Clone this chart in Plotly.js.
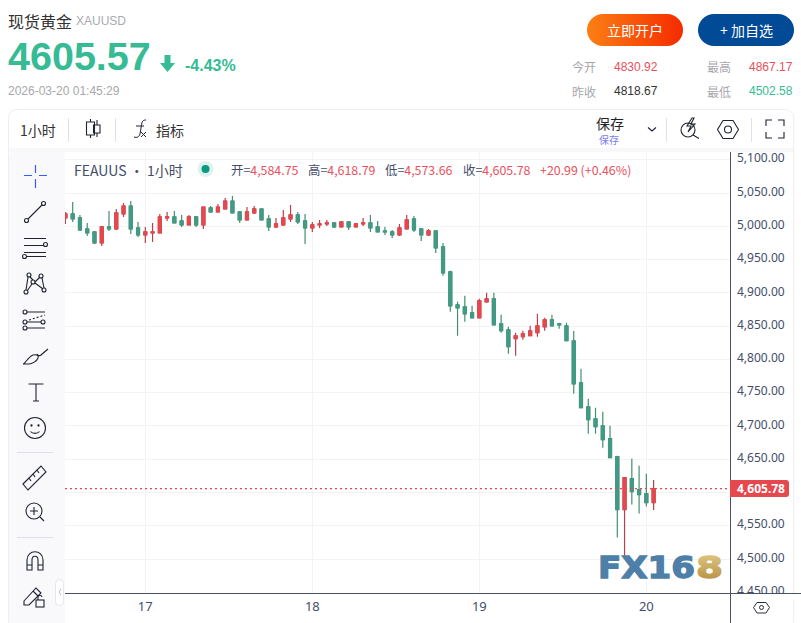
<!DOCTYPE html>
<html><head><meta charset="utf-8">
<script src="https://cdn.plot.ly/plotly-3.0.1.min.js"></script>
<style>
html,body{margin:0;padding:0;background:#fff;width:801px;height:623px;overflow:hidden}
#back,#front{position:absolute;left:0;top:0;pointer-events:none}
#chart{position:absolute;left:0;top:0;width:801px;height:623px}
</style></head><body>
<svg id="back" width="801" height="623" xmlns="http://www.w3.org/2000/svg">
<defs><linearGradient id="org" x1="0" x2="1" y1="0" y2="0"><stop offset="0" stop-color="#fb7f14"/><stop offset="1" stop-color="#f52b00"/></linearGradient></defs>
<rect x="587" y="14" width="96" height="32" rx="16" fill="url(#org)"/>
<rect x="698" y="14" width="96" height="32" rx="16" fill="#004a96"/>
<path d="M164.500 55h6v8h4.500l-7.500 9-7.500-9h4.500z" fill="#36bb95"/>
<rect x="8.500" y="109.500" width="785" height="520" rx="8" fill="#fff" stroke="#eeeef0"/>
<rect x="9" y="148" width="784" height="4" fill="#f8f8f9"/>
<path d="M9 156a4 4 0 0 1 4-4h52v471H9z" fill="#f9f9fb"/>
<g stroke="#dfe1ea" fill="none">
<path d="M68.500 118v24M115.500 118v24M666.500 118v24M751.500 118v24"/>
<path d="M17 452.500h36M17 537.500h36"/>
</g>
<g stroke="#1f2330" fill="none" stroke-width="1.100">
<path d="M90.500 119v3M90.500 135v3M86.500 122h8v13h-8zM97 120v5M97 133v4M93.500 125h6.500v8h-6.500z"/>
<path d="M146 120c-4 0-4 2-5 8l-1 6c-1 3-3 4-6 3M136 126h8M141 132l5 5M146 132l-5 5" stroke-width="1"/>
<path d="M648 127.500l4 3.500 4-3.500"/>
<circle cx="688" cy="130" r="7"/><path d="M693 135l6 3.500M692 118l-5 8h4l-3 6 7-8h-4l3-6z"/>
<path d="M723 120.500h10l5.500 9-5.500 9h-10l-5.500-9z"/><circle cx="728" cy="129.500" r="3.500"/>
<path d="M766 126v-6h6M778 120h6v6M784 132v6h-6M772 138h-6v-6"/>
</g>
<path d="M24 175.500h8M39 175.500h8M35.500 165v8M35.500 179v9" stroke="#2962ff" stroke-width="1.200" fill="none"/>
<g stroke="#1f2330" fill="none" stroke-width="1.100">
<circle cx="26.500" cy="220.500" r="2"/><circle cx="43.500" cy="203.500" r="2"/><path d="M28 219l14-14"/>
<path d="M24 238.500h22M24 245.500h20M24 252.500h22M26 256.500h20"/><circle cx="45.500" cy="244.500" r="2"/><circle cx="24.500" cy="256.500" r="2"/>
<circle cx="29" cy="275" r="2"/><circle cx="41" cy="276" r="2"/><circle cx="33" cy="282" r="2"/><circle cx="26" cy="292" r="2"/><circle cx="44" cy="290" r="2"/><path d="M28 277l-2 13M30 277l3 3M35 282l5-5M42 278l2 10M35 283l8 6M32 284l-5 7"/>
<circle cx="25" cy="312" r="2"/><circle cx="25" cy="322" r="2"/><circle cx="25" cy="328" r="2"/><circle cx="43" cy="322" r="2"/><path d="M27 312h18M27 322h14M27 328h18"/><path d="M29 320l16-5" stroke-dasharray="2 2"/>
<path d="M23 364c2 0 5-7 10-9 4-1 6 1 5 3-1 3-6 6-9 6zM37 354c1 2 3 2 4 1l7-6"/>
<path d="M28.500 384h15M36 384v17M33 401h6"/>
<circle cx="35" cy="428" r="10.500"/><circle cx="31.500" cy="425.500" r=".6"/><circle cx="38.500" cy="425.500" r=".6"/><path d="M30.500 431.500c2 2.500 7 2.500 9 0"/>
<path d="M23 484l18-18 5 6-18 18zM29 478l2 3M33 474l2 3M37 470l2 3"/>
<circle cx="34" cy="511" r="8"/><path d="M40 517l4 4M30 511h8M34 507v8"/>
<path d="M27 570v-10c0-11 16-11 16 0v10h-5v-10c0-5-6-5-6 0v10zM27 565h5M38 565h5"/>
<path d="M24 601l12-13 5 5-12 12h-5zM33 591l5 5"/><rect x="36" y="600" width="8" height="7" fill="#f9f9fb"/><path d="M38 600v-3c0-2 4-2 4 0"/>
</g>
<rect x="55.500" y="579.500" width="8" height="26" rx="4" fill="#fff" stroke="#e5e6ec"/>
<path d="M61 589l-2 3 2 3" stroke="#b8bcc8" fill="none"/>
<circle cx="205.500" cy="169" r="8" fill="#dff2ee"/><circle cx="205.500" cy="169" r="4" fill="#089981"/>
<path d="M730.500 152V623M65 593.500H801" stroke="#4a5268" fill="none"/>
<path d="M757 602.500h9l3.500 5-3.500 5.500h-9l-3.500-5.500z" stroke="#2a2e39" fill="none"/><circle cx="761.500" cy="607.500" r="2" stroke="#2a2e39" fill="none"/>
<path d="M730 480h56a3 3 0 0 1 3 3v11a3 3 0 0 1-3 3h-56z" fill="#e5484d"/>
</svg>
<div id="chart"></div>
<svg id="front" width="801" height="623" xmlns="http://www.w3.org/2000/svg">
<defs><linearGradient id="gold" x1="0" x2="0" y1="0" y2="1"><stop offset="0" stop-color="#e6cf8d"/><stop offset="1" stop-color="#b08b3c"/></linearGradient></defs>
<text x="598" y="577.500" font-family="DejaVu Sans" font-weight="700" font-size="31" fill="#4e7fa8" stroke="#4e7fa8" stroke-width="1.300" textLength="97" lengthAdjust="spacingAndGlyphs">FX16</text>
<text x="696" y="577.500" font-family="DejaVu Sans" font-weight="700" font-size="31" fill="url(#gold)" stroke="url(#gold)" stroke-width="1.300" textLength="27" lengthAdjust="spacingAndGlyphs">8</text>
</svg>
<script>
// Hourly candles, XAUUSD
var openP = [5012.5,5018.5,5012.5,4996,4991.5,4975,4999,4996,5018.5,5030.5,4997.5,4987,4990,4990,5012.5,5014,5008,5002,5014,5002,5027.5,5021.5,5026,5038,5021.5,5009.5,5020,5026,5011,4999,5002,5011,5017,5008,4997.5,5002,5003.5,5005,4999,5006.5,4999,5003.5,5005,4999,4993,4991.5,4987,4996,5011,4996,4987,4993,4969,4931.5,4882,4879,4870,4862.5,4886.5,4891,4853.5,4844.5,4831,4834,4835.5,4840,4849,4859.5,4853.5,4850.5,4827.8,4764.8,4728.8,4710.8,4700.3,4680.8,4653.8,4574.3,4620.8,4604.3,4598.3,4584.75];
var highP = [5021.5,5036.5,5017,5005,4993,5000.5,5023,5026,5035,5038,5006.5,4999,5005,5018.5,5021.5,5023,5017,5017,5015.5,5029,5030.5,5033.5,5042.5,5045.5,5023,5029,5030.5,5026,5017,5012.5,5024.5,5032,5021.5,5018.5,5006.5,5009.5,5009.5,5006.5,5006.5,5006.5,5005,5012.5,5017,5008,4999,4994.5,5003.5,5017,5015.5,4997.5,4996,4993,4975,4933,4886.5,4895.5,4880.5,4891,4900,4900,4867,4849,4840,4843,4850.5,4868.5,4862.5,4867,4855,4855,4842.8,4785.8,4740.8,4727.3,4721.3,4700.3,4655.3,4622.3,4650.8,4640.3,4628.3,4618.79];
var lowP = [5003.5,5006.5,4993,4985.5,4973.5,4970.5,4993,4994.5,5014,4988.5,4984,4975,4976.5,4990,5008,5005,4999,5002,4999,4996,5020,5021.5,5026,5020,5005,5009.5,5018.5,5009.5,4993,4997.5,5000.5,5006.5,5003.5,4973.5,4991.5,4997.5,5000.5,4997.5,4999,4994.5,4999,5000.5,4991.5,4991.5,4987,4982.5,4985.5,4996,4991.5,4978,4985.5,4960,4925.5,4871.5,4835.5,4856.5,4862.5,4862.5,4885,4852,4840,4808.5,4805.5,4829.5,4835.5,4834,4843,4850.5,4846,4828,4748.3,4727.3,4688.3,4688.3,4667.3,4652.3,4532.3,4502.58,4581.8,4568.3,4578.8,4573.66];
var closeP = [5018.5,5011,4994.5,4990,4975,4999,4996,5020,5030.5,4996,4987,4991.5,4991.5,5014,5014,5005,5002,5014,5002,5029,5021.5,5029,5038,5020,5009.5,5021.5,5026,5009.5,4999,5003.5,5012.5,5017,5006.5,4997.5,5002,5003.5,5005,4999,5006.5,4999,5003.5,5005,4997.5,4991.5,4991.5,4987,4997.5,5009.5,4994.5,4987,4993,4967.5,4930,4880.5,4877.5,4868.5,4862.5,4888,4891,4852,4843,4819,4835.5,4838.5,4843,4850.5,4859.5,4850.5,4852,4828,4763.3,4727.3,4709.3,4698.8,4679.3,4652.3,4574.3,4622.3,4601.3,4596.8,4584.8,4605.78];
var dayTickIndex = [11,34,57,80];
var dayTickLabels = ['17','18','19','20'];
var priceTicks = [5100,5050,5000,4950,4900,4850,4800,4750,4700,4650,4600,4550,4500,4450];
var priceLabels = ['5,100.00','5,050.00','5,000.00','4,950.00','4,900.00','4,850.00','4,800.00','4,750.00','4,700.00','4,650.00','','4,550.00','4,500.00','4,450.00'];
var lastPrice = 4605.78;

var UP='#e5484d', DOWN='#429a85', UPW='#b8404f', DOWNW='#458f6c';
var xs = openP.map(function(_,i){return i;});
var W=801,H=623;
var MONO='"Noto Sans","Liberation Sans",sans-serif';
var CJK='"Noto Sans CJK SC","Noto Sans",sans-serif';
var ARIAL='"Liberation Sans",Arial,sans-serif';
var TXT='#434e6a', RED='#e8505b', GREY='#a7a7ad', GRN='#36bb95';

function note(px,py,text,size,color,anchor,family,bold){
  return {xref:'paper',yref:'paper',x:px/W,y:1-py/H,text:bold?'<b>'+text+'</b>':text,showarrow:false,
    xanchor:anchor||'left',yanchor:'middle',borderpad:0,borderwidth:0,
    font:{size:size,color:color,family:family||CJK}};
}
function c(t,col){return '<span style="color:'+col+'">'+t+'</span>';}
var notes=[
 note(8,21,'现货黄金',16,'#333',null,CJK),
 note(76,21,'XAUUSD',12,'#aaaab0',null,ARIAL),
 note(8,56,'4605.57',39.5,GRN,null,ARIAL,true),
 note(185,65,'-4.43%',16,GRN,null,ARIAL,true),
 note(8,91,'2026-03-20 01:45:29',12,GREY,null,ARIAL),
 note(635,30,'立即开户',14,'#fff','center',CJK),
 note(746,30,'+ 加自选',14,'#fff','center',CJK),
 note(572,67,'今开',12,GREY,null,CJK),
 note(614,67,'4830.92',12,RED,null,ARIAL),
 note(707,67,'最高',12,GREY,null,CJK),
 note(749,67,'4867.17',12,RED,null,ARIAL),
 note(572,91,'昨收',12,GREY,null,CJK),
 note(614,91,'4818.67',12,'#333',null,ARIAL),
 note(707,91,'最低',12,GREY,null,CJK),
 note(749,91,'4502.58',12,GRN,null,ARIAL),
 note(20,130,'1小时',14,'#333',null,CJK),
 note(156,130,'指标',14,'#333',null,CJK),
 note(596,123,'保存',14,'#222',null,CJK),
 note(599,139,'保存',10,'#7b7bf0',null,CJK),
 note(74,170,'FEAUUS · 1小时',14,TXT,null,CJK),
 note(231,170,'开='+c('4,584.75',RED),12.4,TXT,null,CJK),
 note(308,170,'高='+c('4,618.79',RED),12.4,TXT,null,CJK),
 note(385,170,'低='+c('4,573.66',RED),12.4,TXT,null,CJK),
 note(463,170,'收='+c('4,605.78',RED),12.4,TXT,null,CJK),
 note(540,170,'+20.99 (+0.46%)',12.4,RED,null,CJK),
 note(737,488.5,'4,605.78',12,'#fff',null,MONO,true)
];
var wick={type:'candlestick',x:xs,open:openP,high:highP,low:lowP,close:closeP,
  increasing:{line:{color:UPW,width:1.2},fillcolor:UP},decreasing:{line:{color:DOWNW,width:1.2},fillcolor:DOWN},
  whiskerwidth:0,hoverinfo:'skip',showlegend:false};
var body={type:'candlestick',x:xs,open:openP,close:closeP,
  high:openP.map(function(o,i){return Math.max(o,closeP[i]);}),
  low:openP.map(function(o,i){return Math.min(o,closeP[i]);}),
  increasing:{line:{color:UP,width:1},fillcolor:UP},decreasing:{line:{color:DOWN,width:1},fillcolor:DOWN},
  whiskerwidth:0,hoverinfo:'skip',showlegend:false};
var layout={width:W,height:H,margin:{l:0,r:0,t:0,b:0,pad:0},paper_bgcolor:'rgba(0,0,0,0)',plot_bgcolor:'rgba(0,0,0,0)',
  showlegend:false,boxgap:0.4,boxmode:'overlay',dragmode:false,
  xaxis:{domain:[65/W,730/W],range:[-0.06,91.52],type:'linear',tickmode:'array',tickvals:dayTickIndex,ticktext:dayTickLabels,
    showgrid:true,gridcolor:'#f3f3f5',gridwidth:1,zeroline:false,showline:false,ticks:'',ticklabelstandoff:4,
    tickfont:{family:MONO,size:13,color:TXT},rangeslider:{visible:false},fixedrange:true},
  yaxis:{domain:[1-593/H,1-152/H],range:[4449,5111.6],side:'right',anchor:'x',tickmode:'array',tickvals:priceTicks,ticktext:priceLabels,
    showgrid:true,gridcolor:'#f3f3f5',gridwidth:1,zeroline:false,showline:false,ticks:'',ticklabelstandoff:6,
    tickfont:{family:MONO,size:12,color:TXT},fixedrange:true},
  shapes:[
    {type:'line',xref:'x',yref:'y',x0:-0.06,x1:91.52,y0:lastPrice,y1:lastPrice,line:{color:UP,width:1.3,dash:'2px,3px'},layer:'above'},
    {type:'rect',xref:'paper',yref:'paper',x0:731/W,x1:801/W,y0:1-600/H,y1:1-594/H,fillcolor:'#fff',line:{width:0},layer:'above'}
  ],
  annotations:notes};
Plotly.newPlot('chart',[wick,body],layout,{staticPlot:true,displayModeBar:false}).then(function(){
  // price labels sit slightly above their gridlines in the source chart
  document.querySelectorAll('#chart .ytick text').forEach(function(t){t.setAttribute('dy','-1.5');});
});
</script>
</body></html>
